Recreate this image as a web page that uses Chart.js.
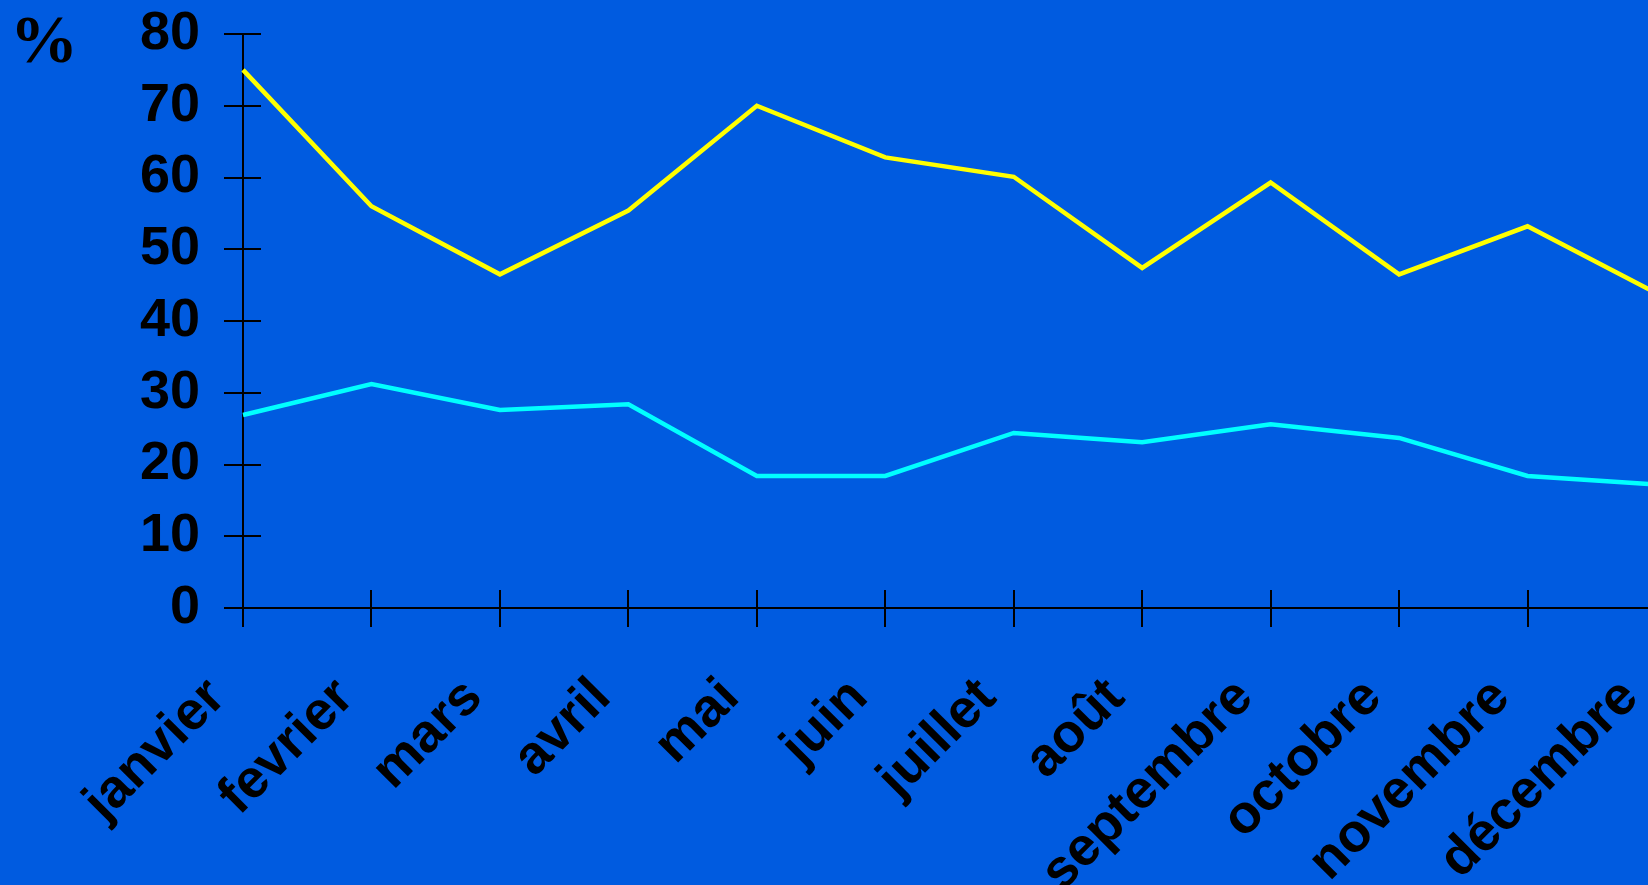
<!DOCTYPE html>
<html lang="fr">
<head>
<meta charset="utf-8">
<title>Pourcentages mensuels</title>
<script src="https://cdn.jsdelivr.net/npm/chart.js@4"></script>
<style>
  html, body { margin: 0; padding: 0; overflow: hidden; background: #005be0; }
  canvas { display: block; }
</style>
</head>
<body>
<canvas id="graphique" width="1720" height="885"></canvas>
<script>
// Mois de l'année (axe des x)
const mois = ['janvier', 'fevrier', 'mars', 'avril', 'mai', 'juin', 'juillet', 'août', 'septembre', 'octobre', 'novembre', 'décembre'];

// Série jaune (courbe du haut)
const serieJaune = [75, 56, 46.5, 55.4, 70, 62.8, 60.1, 47.4, 59.3, 46.5, 53.2, 43.9];

// Série cyan (courbe du bas)
const serieCyan = [26.9, 31.2, 27.6, 28.4, 18.4, 18.4, 24.4, 23.1, 25.6, 23.7, 18.4, 17.2];

// Graduations de l'axe des y
const graduationsY = [0, 10, 20, 30, 40, 50, 60, 70, 80];

const police = '"Liberation Sans", Arial, sans-serif';

// On garde la zone du graphique fixe : pas de marge ajoutée par les étiquettes
function sansMarges(scale) {
  scale.paddingTop = 0;
  scale.paddingBottom = 0;
  scale.paddingLeft = 0;
  scale.paddingRight = 0;
}

// Petites tiques vers l'intérieur (les axes sont "croisés")
const tiquesInterieures = {
  id: 'tiquesInterieures',
  afterDraw(chart) {
    const { ctx, chartArea, scales } = chart;
    ctx.save();
    ctx.strokeStyle = '#000';
    ctx.lineWidth = 2;
    ctx.beginPath();
    scales.y.ticks.forEach((t, i) => {
      const y = Math.round(scales.y.getPixelForTick(i));
      ctx.moveTo(chartArea.left, y);
      ctx.lineTo(chartArea.left + 18, y);
    });
    scales.x.ticks.forEach((t, i) => {
      const x = Math.round(scales.x.getPixelForTick(i));
      ctx.moveTo(x, chartArea.bottom);
      ctx.lineTo(x, chartArea.bottom - 18);
    });
    ctx.stroke();
    ctx.restore();
  }
};

// Le symbole % en haut à gauche
const symbolePourcent = {
  id: 'symbolePourcent',
  afterDraw(chart) {
    const ctx = chart.ctx;
    ctx.save();
    ctx.fillStyle = '#000';
    ctx.font = 'bold 68px "Liberation Serif", "Times New Roman", serif';
    ctx.textAlign = 'left';
    ctx.textBaseline = 'alphabetic';
    ctx.fillText('%', 10, 62);
    ctx.restore();
  }
};

new Chart(document.getElementById('graphique'), {
  type: 'line',
  data: {
    labels: mois,
    datasets: [{
      data: serieJaune,
      borderColor: '#ffff00',
      borderWidth: 4.5,
      pointRadius: 0,
      tension: 0,
    }, {
      data: serieCyan,
      borderColor: '#00ffff',
      borderWidth: 4.5,
      pointRadius: 0,
      tension: 0,
    }],
  },
  options: {
    responsive: false,
    animation: false,
    layout: { padding: { top: 34, right: 64, bottom: 0, left: 0 } },
    plugins: { legend: { display: false }, tooltip: { enabled: false } },
    scales: {
      x: {
        offset: false,
        grid: { drawOnChartArea: false, color: '#000', lineWidth: 2, tickLength: 19 },
        border: { color: '#000', width: 2 },
        ticks: {
          autoSkip: false,
          minRotation: 45,
          maxRotation: 45,
          padding: 39,
          labelOffset: -26,
          color: '#000',
          font: { family: police, size: 54, weight: 'bold' },
        },
        afterFit: (scale) => { scale.height = 277; sansMarges(scale); },
      },
      y: {
        min: graduationsY[0],
        max: graduationsY[graduationsY.length - 1],
        afterBuildTicks: (scale) => { scale.ticks = graduationsY.map(v => ({ value: v })); },
        grid: { drawOnChartArea: false, color: '#000', lineWidth: 2, tickLength: 19 },
        border: { color: '#000', width: 2 },
        ticks: {
          padding: 24,
          color: '#000',
          font: { family: police, size: 54, weight: 'bold' },
        },
        afterFit: (scale) => { scale.width = 243; sansMarges(scale); },
      },
    },
  },
  plugins: [tiquesInterieures, symbolePourcent],
});
</script>
</body>
</html>
